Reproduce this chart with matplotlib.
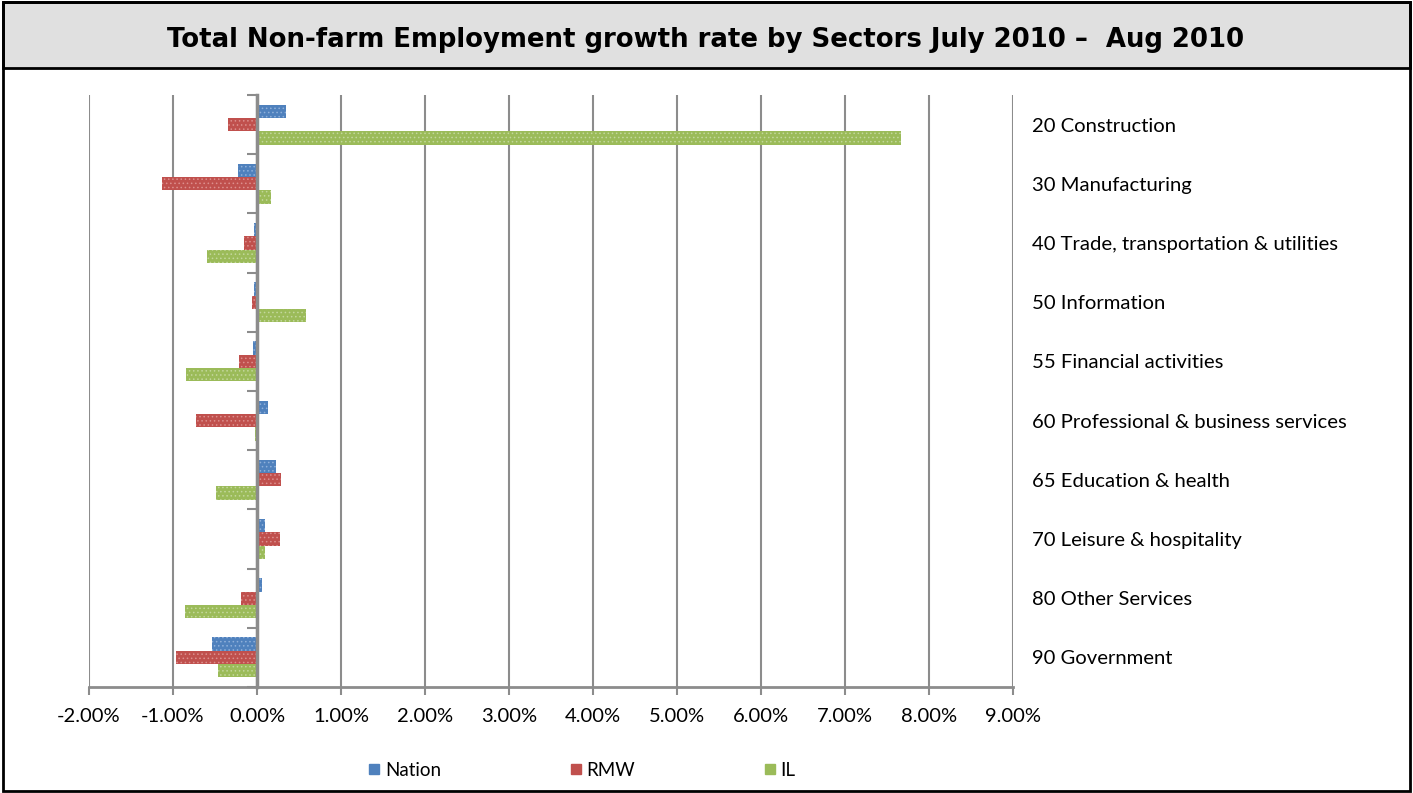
import matplotlib
matplotlib.use("Agg")
import matplotlib.pyplot as plt
from matplotlib.patches import Rectangle
from matplotlib.lines import Line2D
import numpy as np

categories = ["20 Construction", "30 Manufacturing", "40 Trade, transportation & utilities",
              "50 Information", "55 Financial activities", "60 Professional & business services",
              "65 Education & health", "70 Leisure & hospitality", "80 Other Services",
              "90 Government"]
nation = [0.35, -0.23, -0.03, -0.03, -0.05, 0.13, 0.23, 0.10, 0.06, -0.53]
rmw = [-0.34, -1.13, -0.15, -0.06, -0.21, -0.73, 0.29, 0.27, -0.19, -0.96]
il = [7.67, 0.17, -0.60, 0.58, -0.85, -0.02, -0.49, 0.10, -0.86, -0.46]
series_names = ["Nation", "RMW", "IL"]
colors = ["#4F81BD", "#C0504D", "#9BBB59"]
hatch_colors = ["#8fb0da", "#dc8f8d", "#c3d79c"]
xticks = [-2, -1, 0, 1, 2, 3, 4, 5, 6, 7, 8, 9]

plt.rcParams['font.family'] = ['Lato', 'DejaVu Sans']
plt.rcParams['hatch.linewidth'] = 0.6

W, H = 1413, 793
fig = plt.figure(figsize=(W / 100, H / 100), dpi=100)

# title box
fig.patches.append(Rectangle((0.002, 1 - 68 / H), 0.996, 68 / H - 0.002,
                             transform=fig.transFigure, facecolor="#e0e0e0",
                             edgecolor="black", linewidth=2, zorder=0))
# outer frame
fig.patches.append(Rectangle((0.002, 0.002), 0.996, 0.996, transform=fig.transFigure,
                             facecolor="none", edgecolor="black", linewidth=2, zorder=0))
fig.text(706 / W, 1 - 40 / H, "Total Non-farm Employment growth rate by Sectors July 2010 \u2013  Aug 2010",
         ha="center", va="center", fontsize=18.7, fontweight="bold", family=["DejaVu Sans"])

ax = fig.add_axes([89 / W, 1 - 687 / H, (1013 - 89) / W, (687 - 95) / H])
y = np.arange(len(categories))
bh = 0.225
for k, (vals, name) in enumerate(zip([nation, rmw, il], series_names)):
    ax.barh(y + (k - 1) * bh, vals, height=bh, color=colors[k], edgecolor=hatch_colors[k],
            linewidth=0, hatch="....", label=name, zorder=3)

ax.set_xlim(-2, 9)
ax.set_ylim(len(categories) - 0.5, -0.5)
ax.set_xticks(xticks)
ax.set_xticklabels([f"{v:.2f}%" for v in xticks])
ax.grid(axis="x", color="#8c8c8c", linewidth=1.5, zorder=0)
ax.tick_params(axis="x", colors="#8c8c8c", length=6, width=1.5, labelsize=14.5, labelcolor="black", pad=9)
for s in ["top", "left", "right"]:
    ax.spines[s].set_visible(False)
ax.spines["bottom"].set_color("#8c8c8c")
ax.spines["bottom"].set_linewidth(2)

ax.yaxis.tick_right()
ax.set_yticks(y)
ax.set_yticklabels(categories)
ax.tick_params(axis="y", length=0, labelsize=14.6, pad=14)

sec = ax.secondary_yaxis(2 / 11)
sec.set_yticks(np.arange(len(categories) + 1) - 0.5)
sec.set_yticklabels([])
sec.tick_params(axis="y", direction="out", length=7, width=1.5, color="#8c8c8c")
sec.spines["left"].set_color("#8c8c8c")
sec.spines["left"].set_linewidth(2.5)
sec.set_zorder(5)

handles = [Line2D([], [], marker="s", linestyle="none", markersize=7.5, color=c,
                  markeredgecolor=c) for c in colors]
fig.legend(handles, series_names, loc="center", bbox_to_anchor=(582 / W, 1 - 770 / H), ncol=3,
           frameon=False, fontsize=13.5, handlelength=0.6, handletextpad=0.25, columnspacing=6.9)

fig.savefig("out.png", dpi=100)
